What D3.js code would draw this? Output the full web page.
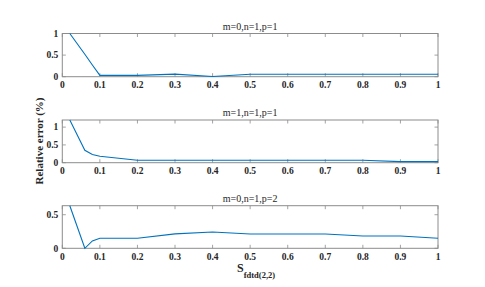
<!DOCTYPE html>
<html>
<head>
<meta charset="utf-8">
<script src="https://cdn.jsdelivr.net/npm/d3@7"></script>
<style>
  body { margin: 0; background: #fff; }
  svg { display: block; }
</style>
</head>
<body>
<svg id="chart" width="485" height="287" font-family="'Liberation Serif', 'Times New Roman', Times, serif"></svg>
<script>
// sample points on S_fdtd(2,2)
const sValues = [0.02, 0.06, 0.08, 0.1, 0.2, 0.3, 0.4, 0.5, 0.6, 0.7, 0.8, 0.9, 1.0]

// relative error (%) for each mode
const err011 = [1.0, 0.52, 0.27, 0.03, 0.03, 0.06, 0.005, 0.055, 0.055, 0.055, 0.055, 0.055, 0.055]
const err111 = [1.2, 0.35, 0.23, 0.18, 0.07, 0.07, 0.07, 0.07, 0.07, 0.07, 0.07, 0.03, 0.03]
const err012 = [0.634, 0.0, 0.11, 0.15, 0.15, 0.215, 0.243, 0.213, 0.213, 0.213, 0.183, 0.183, 0.15]

const panelTitles = ['m=0,n=1,p=1', 'm=1,n=1,p=1', 'm=0,n=1,p=2']
const xTicks = [0, 0.1, 0.2, 0.3, 0.4, 0.5, 0.6, 0.7, 0.8, 0.9, 1]

const panels = [
    {title: panelTitles[0], values: err011, yMax: 1, yTicks: [0, 0.5, 1], top: 33.5, bottom: 76.7},
    {title: panelTitles[1], values: err111, yMax: 1.2, yTicks: [0, 0.5, 1], top: 120, bottom: 162.7},
    {title: panelTitles[2], values: err012, yMax: 0.634, yTicks: [0, 0.5], top: 205.7, bottom: 248.3}
]

const svg = d3.select('#chart')
const left = 62.3
const right = 438
const x = d3.scaleLinear().domain([0, 1]).range([left, right])
const boxColor = '#8c8c8c'
const tickLen = 3.5

panels.forEach(p => {
    const y = d3.scaleLinear().domain([0, p.yMax]).range([p.bottom, p.top])
    const g = svg.append('g')

    // tick marks on all four sides (pointing inwards)
    g.selectAll('.xt').data(xTicks).enter().append('line')
        .attr('x1', d => x(d)).attr('x2', d => x(d))
        .attr('y1', p.bottom).attr('y2', p.bottom - tickLen)
        .attr('stroke', boxColor).attr('stroke-width', 0.8)
    g.selectAll('.xtt').data(xTicks).enter().append('line')
        .attr('x1', d => x(d)).attr('x2', d => x(d))
        .attr('y1', p.top).attr('y2', p.top + tickLen)
        .attr('stroke', boxColor).attr('stroke-width', 0.8)
    g.selectAll('.yt').data(p.yTicks).enter().append('line')
        .attr('x1', left).attr('x2', left + tickLen)
        .attr('y1', d => y(d)).attr('y2', d => y(d))
        .attr('stroke', boxColor).attr('stroke-width', 0.8)
    g.selectAll('.ytr').data(p.yTicks).enter().append('line')
        .attr('x1', right).attr('x2', right - tickLen)
        .attr('y1', d => y(d)).attr('y2', d => y(d))
        .attr('stroke', boxColor).attr('stroke-width', 0.8)

    // box
    g.append('rect')
        .attr('x', left).attr('y', p.top)
        .attr('width', right - left).attr('height', p.bottom - p.top)
        .attr('fill', 'none').attr('stroke', boxColor).attr('stroke-width', 1)

    // tick labels
    g.selectAll('.xl').data(xTicks).enter().append('text')
        .attr('x', d => x(d)).attr('y', p.bottom + 11.5)
        .attr('text-anchor', 'middle')
        .attr('font-size', '9.5px').attr('font-weight', 'bold').attr('fill', '#262626')
        .text(d => d)
    g.selectAll('.yl').data(p.yTicks).enter().append('text')
        .attr('x', left - 4).attr('y', d => y(d) + 3.3)
        .attr('text-anchor', 'end')
        .attr('font-size', '9.5px').attr('font-weight', 'bold').attr('fill', '#262626')
        .text(d => d)

    // title
    g.append('text')
        .attr('x', (left + right) / 2).attr('y', p.top - 4)
        .attr('text-anchor', 'middle')
        .attr('font-size', '10px').attr('fill', '#262626')
        .text(p.title)

    // data line
    const line = d3.line()
        .x((d, i) => x(sValues[i]))
        .y(d => y(d))
    g.append('path')
        .datum(p.values)
        .attr('d', line)
        .attr('fill', 'none')
        .attr('stroke', '#0072BD')
        .attr('stroke-width', 1.1)
})

// y axis label
svg.append('text')
    .attr('transform', 'translate(43,141) rotate(-90)')
    .attr('text-anchor', 'middle')
    .attr('font-size', '11px').attr('font-weight', 'bold').attr('fill', '#262626')
    .text('Relative error (%)')

// x axis label with subscript
const xl = svg.append('text')
    .attr('x', 237).attr('y', 272)
    .attr('font-weight', 'bold').attr('fill', '#262626')
xl.append('tspan').attr('font-size', '12px').text('S')
xl.append('tspan').attr('font-size', '8.5px').attr('dy', 6).text('fdtd(2,2)')
</script>
</body>
</html>
